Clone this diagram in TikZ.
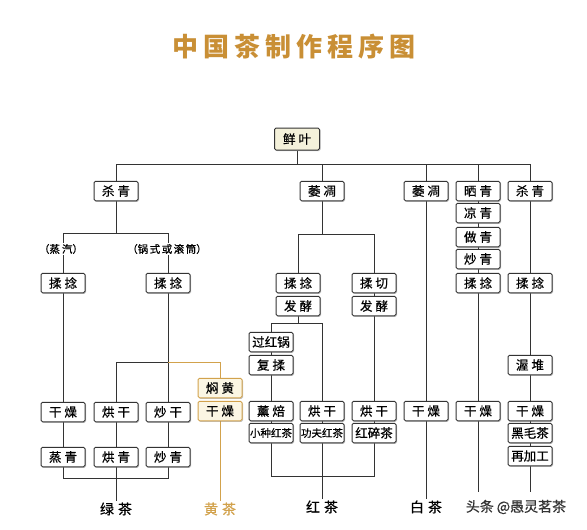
\documentclass[tikz,border=0pt]{standalone}
\usepackage{fontspec}
\newfontfamily\cjk{Noto Sans CJK SC}
\newfontfamily\cjkb[FakeBold=0.6]{Noto Sans CJK SC}
\usetikzlibrary{shadows}
\definecolor{ln}{HTML}{333333}
\definecolor{gold}{HTML}{D2A24C}
\definecolor{tgold}{HTML}{C98F35}
\definecolor{cream}{HTML}{F4F1DA}
\definecolor{ycream}{HTML}{FBF6E4}
\pgfdeclarelayer{bg}
\pgfsetlayers{bg,main}
\begin{document}
\begin{tikzpicture}[x=1pt,y=-1pt,
 font=\cjk,
 box/.style={draw=ln, line width=1pt, rounded corners=1.5pt, fill=white,
   minimum width=44pt, minimum height=19.5pt, inner sep=0pt,
   font=\cjkb\fontsize{12.5}{12.5}\selectfont,
   drop shadow={shadow xshift=1pt, shadow yshift=-1pt, opacity=0.45, fill=gray}},
 ybox/.style={box, draw=gold, fill=ycream},
 sbox/.style={box, font=\cjkb\fontsize{10.5}{10.5}\selectfont},
 conn/.style={draw=ln, line width=1pt},
 yconn/.style={draw=gold, line width=1pt},
 lbl/.style={font=\cjkb\fontsize{14}{14}\selectfont, inner sep=1pt},
 note/.style={font=\cjkb\fontsize{10.5}{11}\selectfont, fill=white, inner sep=1pt}
]
\useasboundingbox (0,0) rectangle (587,530);

% title
\node[text=tgold, font=\cjk\bfseries\fontsize{26}{26}\selectfont] (title) at (294,47)
 {中\hspace{5pt}国\hspace{5pt}茶\hspace{5pt}制\hspace{5pt}作\hspace{5pt}程\hspace{5pt}序\hspace{5pt}图};

% root
\node[box, fill=cream, minimum width=45pt, minimum height=22pt] (xy) at (297,139) {鲜\hspace{3pt}叶};

% top row
\node[box] (sq1) at (116,191) {杀\hspace{3pt}青};
\node[box] (wd1) at (322,191) {萎\hspace{3pt}凋};
\node[box] (wd2) at (426,191) {萎\hspace{3pt}凋};
\node[box] (sq2) at (478,191) {晒\hspace{3pt}青};
\node[box] (sq3) at (530,191) {杀\hspace{3pt}青};

% oolong stack
\node[box] (lq) at (478,213) {凉\hspace{3pt}青};
\node[box] (zq) at (478,237) {做\hspace{3pt}青};
\node[box] (cq) at (478,259) {炒\hspace{3pt}青};
\node[box] (rn5) at (478,283) {揉\hspace{3pt}捻};
\node[box] (gz5) at (478,411) {干\hspace{3pt}燥};

% dark tea
\node[box] (rn6) at (530,283) {揉\hspace{3pt}捻};
\node[box] (wdui) at (530,365) {渥\hspace{3pt}堆};
\node[box] (gz6) at (530,411) {干\hspace{3pt}燥};
\node[box] (hmc) at (530,433) {黑毛茶};
\node[box] (zjg) at (530,456) {再加工};

% white tea
\node[box] (gz4) at (426,411) {干\hspace{3pt}燥};

% green tea
\node[note] (n1) at (61,249) {（蒸\hspace{2pt}汽）};
\node[note] (n2) at (167,249) {（锅\hspace{1.5pt}式\hspace{1.5pt}或\hspace{1.5pt}滚\hspace{1.5pt}筒）};
\node[box] (rn1) at (63,283) {揉\hspace{3pt}捻};
\node[box] (rn2) at (168,283) {揉\hspace{3pt}捻};
\node[box] (gz1) at (63,412) {干\hspace{3pt}燥};
\node[box] (hg1) at (116,412) {烘\hspace{3pt}干};
\node[box] (cg) at (168,412) {炒\hspace{3pt}干};
\node[box] (zq1) at (63,457) {蒸\hspace{3pt}青};
\node[box] (hq) at (116,457) {烘\hspace{3pt}青};
\node[box] (cq2) at (168,457) {炒\hspace{3pt}青};

% yellow tea
\node[ybox] (mh) at (220,388) {焖\hspace{3pt}黄};
\node[ybox] (gzy) at (220,411) {干\hspace{3pt}燥};

% black tea
\node[box] (rn3) at (298,283) {揉\hspace{3pt}捻};
\node[box] (fj1) at (298,306) {发\hspace{3pt}酵};
\node[box] (rq) at (374,283) {揉\hspace{3pt}切};
\node[box] (fj2) at (374,306) {发\hspace{3pt}酵};
\node[box] (ghg) at (271,342) {过红锅};
\node[box] (fr) at (271,365) {复\hspace{3pt}揉};
\node[box] (xb) at (271,411) {薰\hspace{3pt}焙};
\node[sbox] (xzhc) at (271,433) {小种红茶};
\node[box] (hg2) at (322,411) {烘\hspace{3pt}干};
\node[sbox] (gfhc) at (322,433) {功夫红茶};
\node[box] (hg3) at (374,411) {烘\hspace{3pt}干};
\node[box] (hsc) at (374,433) {红碎茶};

% bottom labels
\node[lbl] (lv) at (116,509) {绿\hspace{4pt}茶};
\node[lbl, text=gold] (hc) at (220,509) {黄\hspace{4pt}茶};
\node[lbl] (hong) at (322,507) {红\hspace{4pt}茶};
\node[lbl] (bai) at (426,507) {白\hspace{4pt}茶};
\node[lbl, text=ln] (wm) at (516,507) {头条\hspace{3pt}@愚灵茗茶};

% junction coordinates
\coordinate (bus) at (116,164);
\coordinate (gj) at (116,233);
\coordinate (gb) at (116,478);
\coordinate (gy) at (116,362);
\coordinate (rj) at (322,234);
\coordinate (rj2) at (298,323);
\coordinate (rb) at (322,476);
\coordinate (eI) at (478,492);
\coordinate (eJ) at (530,492);

\begin{pgfonlayer}{bg}
\fill[white] (0,0) rectangle (587,530);
% root bus
\draw[conn] (xy) -- (xy |- bus);
\draw[conn] (sq1) -- (sq1 |- bus) -- (sq3 |- bus) -- (sq3);
\draw[conn] (wd1) -- (wd1 |- bus);
\draw[conn] (wd2) -- (wd2 |- bus);
\draw[conn] (sq2) -- (sq2 |- bus);
% green
\draw[conn] (sq1) -- (gj);
\draw[conn] (rn1) -- (rn1 |- gj) -- (rn2 |- gj) -- (rn2);
\draw[conn] (rn1) -- (rn1 |- gb) -- (rn2 |- gb) -- (rn2);
\draw[conn] (hg1) -- (hg1 |- gy) -- (rn2 |- gy);
\draw[conn] (hg1) -- (lv.north);
% yellow
\draw[yconn] (rn2 |- gy) -- (mh |- gy) -- (mh);
\draw[yconn] (gzy) -- (hc.north);
% black
\draw[conn] (wd1) -- (rj);
\draw[conn] (rn3) -- (rn3 |- rj) -- (rq |- rj) -- (rq);
\draw[conn] (fj1) -- (rj2);
\draw[conn] (ghg) -- (ghg |- rj2) -- (hg2 |- rj2) -- (hg2);
\draw[conn] (ghg) -- (ghg |- rb) -- (rq |- rb) -- (rq);
\draw[conn] (hg2) -- (hong.north);
% white
\draw[conn] (wd2) -- (bai.north);
% oolong
\draw[conn] (sq2) -- (eI);
% dark
\draw[conn] (sq3) -- (eJ);
\end{pgfonlayer}
\end{tikzpicture}
\end{document}
